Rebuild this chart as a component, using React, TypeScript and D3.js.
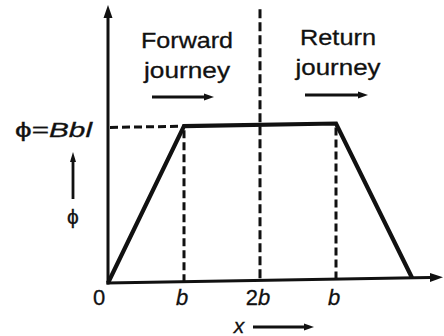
import * as d3 from "d3";

// x positions in units of b, flux in units of Bbl
const fluxX = [0, 1, 3, 4];
const fluxY = [0, 1, 1, 0];
const tickValues = [0, 1, 2, 3];
const tickLabels = ["0", "b", "2b", "b"];
const dropLines = [1, 3];
const midLine = 2;

const W = 444, H = 336;
const ox = 108, oy = 283;
const font = "'Liberation Sans', Arial, sans-serif";
const ink = "#111";

const Arrow = ({ x1, y1, x2, y2, head = 10, half = 4, w = 2.5 }) => {
  const a = Math.atan2(y2 - y1, x2 - x1);
  const bx = x2 - head * Math.cos(a), by = y2 - head * Math.sin(a);
  const px = -Math.sin(a) * half, py = Math.cos(a) * half;
  return (
    <g>
      <line x1={x1} y1={y1} x2={bx} y2={by} stroke={ink} strokeWidth={w} />
      <path d={`M${x2},${y2}L${bx + px},${by + py}L${bx - px},${by - py}Z`} fill={ink} stroke="none" />
    </g>
  );
};

export default function App() {
  const x = d3.scaleLinear().domain([0, 4]).range([ox, 412]);
  const y = d3.scaleLinear().domain([0, 1]).range([oy, 127.5]);
  const pts = fluxX.map((v, i) => [x(v), y(fluxY[i])] as [number, number]);
  const line = d3.line();

  return (
    <svg width={W} height={H} style={{ position: "absolute", left: 0, top: 0, background: "#fff" }}>
      <g transform={`translate(${ox},${oy}) skewY(-1) translate(${-ox},${-oy})`}>
        {/* axes */}
        <Arrow x1={ox} y1={oy + 1.5} x2={ox} y2={5} head={13} half={4.5} w={3} />
        <Arrow x1={ox - 1.5} y1={oy} x2={443} y2={oy} head={13} half={4.5} w={3} />

        {/* dashed guides */}
        <line x1={ox + 2} y1={y(1)} x2={x(1)} y2={y(1)} stroke={ink} strokeWidth={3} strokeDasharray="8,4" />
        {dropLines.map((d) => (
          <line key={d} x1={x(d)} y1={y(1) + 4} x2={x(d)} y2={oy} stroke={ink} strokeWidth={3} strokeDasharray="8,4" />
        ))}
        <line x1={x(midLine)} y1={12} x2={x(midLine)} y2={oy} stroke={ink} strokeWidth={3} strokeDasharray="9,4" />

        {/* flux */}
        <path d={line(pts) || ""} fill="none" stroke={ink} strokeWidth={4.2} strokeLinejoin="miter" />
      </g>

      <g fontFamily={font} fill={ink} stroke={ink} strokeWidth={0.3}>
        <text x={187} y={48} fontSize={22} textAnchor="middle" textLength={92} lengthAdjust="spacingAndGlyphs">Forward</text>
        <text x={187} y={78} fontSize={22} textAnchor="middle" textLength={86} lengthAdjust="spacingAndGlyphs">journey</text>
        <Arrow x1={152} y1={97} x2={214} y2={97} head={10} half={3.5} w={2.8} />

        <text x={338} y={45} fontSize={22} textAnchor="middle" textLength={76} lengthAdjust="spacingAndGlyphs">Return</text>
        <text x={338} y={75} fontSize={22} textAnchor="middle" textLength={85} lengthAdjust="spacingAndGlyphs">journey</text>
        <Arrow x1={305} y1={95} x2={368} y2={95} head={10} half={3.5} w={2.8} />

        <text x={15} y={137} fontSize={20} textLength={77} lengthAdjust="spacingAndGlyphs">
          ϕ=<tspan fontStyle="italic">Bbl</tspan>
        </text>
        <Arrow x1={73} y1={199} x2={73} y2={152} head={10} half={3} w={2.8} />
        <text x={73} y={224} fontSize={21} textAnchor="middle">ϕ</text>

        {tickValues.map((t, i) => {
          const lab = tickLabels[i];
          const cx = x(t) - (i === 0 ? 9 : 2);
          return (
            <text key={i} x={cx} y={305} fontSize={22} textAnchor="middle">
              {lab.split("").map((c, j) => (
                <tspan key={j} fontStyle={c === "b" ? "italic" : "normal"}>{c}</tspan>
              ))}
            </text>
          );
        })}

        <text x={239} y={333} fontSize={21} fontStyle="italic" textAnchor="middle">x</text>
        <Arrow x1={253} y1={327} x2={314} y2={327} head={10} half={3.5} w={2.8} />
      </g>
    </svg>
  );
}
